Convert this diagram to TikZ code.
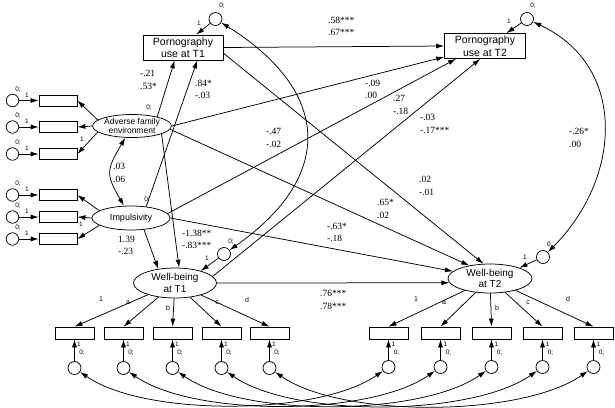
\documentclass[tikz,border=0pt]{standalone}
\usepackage{fontspec}
\setmainfont{Liberation Sans}
\newfontfamily\coeffont{Liberation Serif}
\usetikzlibrary{arrows.meta,shapes.geometric}
\begin{document}
\begin{tikzpicture}[x=1pt,y=-1pt,
  lw/.style={line width=0.75pt},
  conn/.style={lw, -{Latex[length=8pt,width=5pt]}},
  dconn/.style={lw, {Latex[length=8pt,width=5pt]}-{Latex[length=8pt,width=5pt]}},
  pbox/.style={draw, lw, rectangle, minimum width=80pt, minimum height=25pt, inner sep=0pt, align=center, font=\fontsize{10.5}{12.5}\selectfont},
  lat/.style={draw, lw, ellipse, inner sep=0pt, align=center},
  obs/.style={draw, lw, rectangle, minimum width=39pt, minimum height=12pt, inner sep=0pt},
  err/.style={draw, lw, circle, minimum size=13pt, inner sep=0pt},
  coef/.style={font=\coeffont\fontsize{9.5}{12.5}\selectfont, align=left, inner sep=0pt, anchor=west},
  tlab/.style={font=\fontsize{6.5}{7}\selectfont, inner sep=0pt},
  llab/.style={font=\fontsize{7}{8}\selectfont, inner sep=0pt},
]
\fill[white] (0,0) rectangle (615,407);
\useasboundingbox (0,0) rectangle (615,407);

% structural nodes
\node[pbox] (P1) at (183,47.5) {Pornography\\use at T1};
\node[pbox, minimum width=81pt] (P2) at (485,46) {Pornography\\use at T2};
\node[err] (P1e) at (215.5,19) {};
\node[err] (P2e) at (527,19) {};
\node[lat, minimum width=78pt, minimum height=23pt, font=\fontsize{8.5}{9}\selectfont] (Adv) at (132,126) {Adverse family\\environment};
\node[lat, minimum width=78pt, minimum height=24pt, font=\fontsize{9}{10}\selectfont] (Imp) at (131,218) {Impulsivity};
\node[lat, minimum width=83pt, minimum height=30pt, font=\fontsize{10}{11.5}\selectfont] (WB1) at (175,283) {Well-being\\at T1};
\node[lat, minimum width=84pt, minimum height=29pt, font=\fontsize{10}{11.5}\selectfont] (WB2) at (490,278.5) {Well-being\\at T2};
\node[err] (WB1e) at (224,254) {};
\node[err] (WB2e) at (543,257) {};

% small labels of structural part
\node[tlab] (lP1z) at (222,6) {0;};
\node[tlab] (lP1o) at (199,23) {1};
\node[tlab] (lP2z) at (533,6) {0;};
\node[tlab] (lP2o) at (509,21) {1};
\node[tlab] (lW1z) at (231,242) {0;};
\node[tlab] (lW1o) at (207,258) {1};
\node[tlab] (lW2z) at (549,244) {0};
\node[tlab] (lW2o) at (525,257) {1};
\node[tlab] (lAz) at (149,108) {0;};
\node[tlab] (lIz) at (147,200) {0;};

% left measurement model: Adverse family environment
\foreach \i/\y in {1/100.5,2/127,3/154}{
  \node[obs, minimum width=38pt, minimum height=11pt] (xA\i) at (58,\y) {};
  \node[err, minimum size=12.5pt] (eA\i) at (12.5,\y) {};
  \draw[conn] (eA\i) -- (xA\i);
  \node[tlab] (zA\i) at (18,\y-11) {0;};
  \node[tlab] (oA\i) at (27,\y-5.5) {1};
}
\draw[conn] (Adv.170) -- (xA1.east);
\draw[conn] (Adv.west) -- (xA2.east);
\draw[conn] (Adv.190) -- (xA3.east);
\node[tlab] (lA1) at (82,139) {1};

% left measurement model: Impulsivity
\foreach \i/\y in {1/195,2/217,3/239}{
  \node[obs, minimum width=38pt, minimum height=11pt] (xI\i) at (58,\y) {};
  \node[err, minimum size=12.5pt] (eI\i) at (12.5,\y) {};
  \draw[conn] (eI\i) -- (xI\i);
  \node[tlab] (zI\i) at (18,\y-11) {0;};
  \node[tlab] (oI\i) at (27,\y-5.5) {1};
}
\draw[conn] (Imp.167) -- (xI1.east);
\draw[conn] (Imp.west) -- (xI2.east);
\draw[conn] (Imp.193) -- (xI3.east);
\node[tlab] (lI1) at (81,224) {1};

% bottom measurement models
\foreach \i/\x/\xx in {1/74.5/388.5, 2/123.5/440.5, 3/172.5/491.5, 4/221.5/542.5, 5/269.5/593.5}{
  \node[obs] (yB\i) at (\x,333) {};
  \node[err] (eB\i) at (\x,368) {};
  \draw[conn] (eB\i) -- (yB\i.south);
  \draw[conn] (WB1) -- (yB\i.north);
  \node[tlab] (oB\i) at (\x+4.5,344) {1};
  \node[tlab] (zB\i) at (\x+7.5,352.5) {0;};
  \node[obs] (yC\i) at (\xx,333) {};
  \node[err] (eC\i) at (\xx,367) {};
  \draw[conn] (eC\i) -- (yC\i.south);
  \draw[conn] (WB2) -- (yC\i.north);
  \node[tlab] (oC\i) at (\xx+5,344) {1};
  \node[tlab] (zC\i) at (\xx+8,352.5) {0;};
}
\foreach \i in {1,...,5}{
  \draw[dconn] (eB\i) to[out=-35,in=215,looseness=0.66] (eC\i);
}
% loading labels
\node[llab] (kB1) at (101,299) {1};
\node[llab] (kB2) at (128,303) {a};
\node[llab] (kB3) at (168,308) {b};
\node[llab] (kB4) at (217,303) {c};
\node[llab] (kB5) at (247,300) {d};
\node[llab] (kC1) at (416,299) {1};
\node[llab] (kC2) at (444,303) {a};
\node[llab] (kC3) at (497,308) {b};
\node[llab] (kC4) at (528,303) {c};
\node[llab] (kC5) at (568,299) {d};

% structural paths
\draw[conn] (P1e) -- (P1.44);
\draw[conn] (P2e) -- (P2.31);
\draw[conn] (WB1e) -- (WB1.25);
\draw[conn] (WB2e) -- (WB2.20);
\draw[conn] (P1.east) -- (P2.west);
\draw[conn] (P1.-8) -- (WB2.114);
\draw[conn] (Adv.20) -- (P1.237);
\draw[conn] (Imp.37) -- (P1.-42);
\draw[conn] (Adv.east) -- (P2.195);
\draw[conn] (Imp.7) -- (P2.204);
\draw[conn] (WB1.10) -- (P2.250);
\draw[conn] (Adv.-5) -- (WB2.148);
\draw[conn] (Imp.east) -- (WB2.169);
\draw[conn] (WB1.east) -- (WB2.186);
\draw[conn] (Imp.-42) -- (WB1.140);
\draw[conn] (Adv.-15) -- (WB1.75);
\draw[dconn] (Adv) to[out=-120,in=120,looseness=1.4] (Imp);
\draw[dconn] (P1e) to[out=-32,in=35,looseness=1.45] (WB1e);
\draw[dconn] (P2e) to[out=-25,in=45,looseness=1.16] (WB2e);

% coefficients
\node[coef] (c1) at (328,26.5) {.58***\\.67***};
\node[coef] (c2) at (140,80) {-.21\\.53*};
\node[coef] (c3) at (195,89.5) {.84*\\-.03};
\node[coef] (c4) at (365,89.5) {-.09\\.00};
\node[coef] (c5) at (393,105) {.27\\-.18};
\node[coef] (c6) at (420,124) {-.03\\-.17***};
\node[coef] (c7) at (266,138) {-.47\\-.02};
\node[coef] (c8) at (419,186) {.02\\-.01};
\node[coef] (c9) at (377,209) {.65*\\.02};
\node[coef] (c10) at (327,232.5) {-.63*\\-.18};
\node[coef] (c11) at (569,138) {-.26*\\.00};
\node[coef] (c12) at (113,173) {.03\\.06};
\node[coef] (c13) at (118,245.5) {1.39\\-.23};
\node[coef] (c14) at (182,239.5) {-1.38**\\-.83***};
\node[coef] (c15) at (320,300) {.76***\\.78***};
\end{tikzpicture}
\end{document}
